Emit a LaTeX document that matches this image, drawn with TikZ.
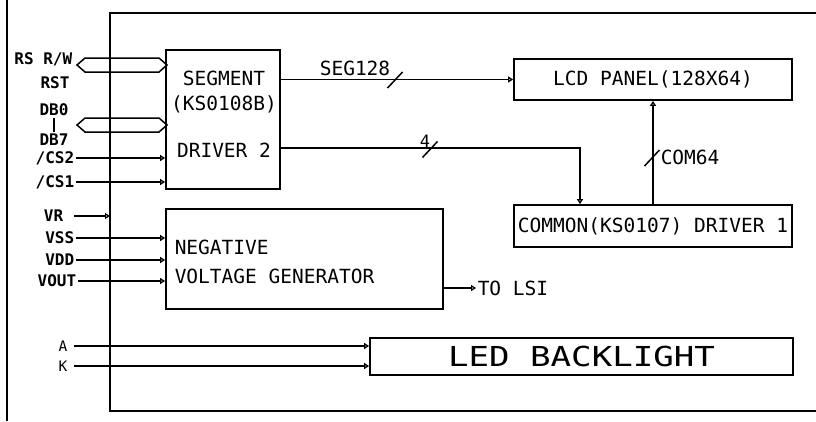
\documentclass[tikz,border=0pt]{standalone}
\usepackage{fontspec}
\usepackage{graphicx}
\setmonofont{DejaVu Sans Mono}
\usetikzlibrary{arrows.meta, positioning}

\begin{document}
\begin{tikzpicture}[
    x=1pt, y=-1pt,
    line width=1.5pt,
    blk/.style={draw, line width=1.8pt, inner sep=0pt, font=\ttfamily\fontsize{19.5}{25}\selectfont},
    pin/.style={font=\ttfamily\bfseries\fontsize{16}{18}\selectfont, inner sep=1pt},
    sig/.style={font=\ttfamily\fontsize{19.5}{22}\selectfont, inner sep=1pt},
    arrow/.style={-{Triangle[open, length=5pt, width=6pt, line width=1.2pt]}},
    bus/.pic={\draw (0,0) -- (8,-7) -- (82,-7) -- (90,0) -- (82,7) -- (8,7) -- cycle;},
    slash/.pic={\draw (-7.5,8) -- (7.5,-8);}
]
\useasboundingbox (0,0) rectangle (816,421);

% module outline
\coordinate (fnw) at (110,13);
\draw (7,0) -- (7,421);
\draw[line width=1.8pt] (816,13) -- (fnw) -- (110,411) -- (816,411);

% blocks
\node[blk, minimum width=114, minimum height=139] (seg) at (223,119.5) {};
\node[sig, align=center, font=\ttfamily\fontsize{19.5}{25}\selectfont] (segtext) at (224,114)
    {SEGMENT\\(KS0108B)\\[22pt]DRIVER 2};
\node[blk, minimum width=278, minimum height=41] (lcd) at (653,79.5) {LCD PANEL(128X64)};
\node[blk, minimum width=278, minimum height=42] (com) at (653,226) {COMMON(KS0107) DRIVER 1};
\node[blk, minimum width=277, minimum height=100] (ngen) at (304.5,259) {};
\node[sig, align=left, anchor=west, font=\ttfamily\fontsize{19.5}{29}\selectfont] (ngentext) at (173,261.5)
    {NEGATIVE\\VOLTAGE GENERATOR};
\node[blk, minimum width=423, minimum height=37] (led) at (581.5,356.5)
    {\scalebox{1.24}[1]{\fontsize{27.5}{30}\selectfont LED BACKLIGHT}};

% pins
\node[pin, anchor=east] (rsrw) at (74,59) {RS R/W};
\node[pin] (rst) at (55,83) {RST};
\node[pin] (db0) at (54,110) {DB0};
\node[pin] (db7) at (54,140) {DB7};
\node[pin, anchor=east] (cs2) at (76,158) {/CS2};
\node[pin, anchor=east] (cs1) at (76,182) {/CS1};
\node[pin, anchor=east] (vr) at (65,216) {VR};
\node[pin, anchor=east] (vss) at (76,238) {VSS};
\node[pin, anchor=east] (vdd) at (76,260) {VDD};
\node[pin, anchor=east] (vout) at (78,281) {VOUT};
\node[sig, anchor=east, font=\ttfamily\fontsize{14.5}{16}\selectfont] (pa) at (69,346) {A};
\node[sig, anchor=east, font=\ttfamily\fontsize{14.5}{16}\selectfont] (pk) at (69,366) {K};

% buses
\pic at (77,65) {bus};
\pic at (77,125) {bus};
\draw (db0.south) -- (db7.north);

% inputs
\draw[arrow] (cs2.east) -- (cs2.east -| seg.west);
\draw[arrow] (cs1.east) -- (cs1.east -| seg.west);
\draw[arrow] ([xshift=9pt]vr.east) -- (vr.east -| fnw);
\draw[arrow] (vss.east) -- (vss.east -| ngen.west);
\draw[arrow] (vdd.east) -- (vdd.east -| ngen.west);
\draw[arrow] (vout.east) -- (vout.east -| ngen.west);
\draw[arrow] ([xshift=5pt]pa.east) -- (pa.east -| led.west);
\draw[arrow] ([xshift=5pt]pk.east) -- (pk.east -| led.west);

% internal connections
\draw[arrow] (seg.east |- lcd.west) -- (lcd.west);
\pic at (395,80) {slash};
\node[sig] (seglbl) at (355,68) {SEG128};

\draw[arrow] ([yshift=-28.5pt]seg.east) -| ([xshift=-73pt]com.north);
\pic at (430,149.5) {slash};
\node[sig, font=\ttfamily\fontsize{17}{19}\selectfont] (nlbl) at (425,141) {4};

\draw[arrow] (com.north) -- (lcd.south);
\pic at (652,158) {slash};
\node[sig, anchor=west] (comlbl) at (659,157) {COM64};

\coordinate (lsi) at (476,288);
\draw[arrow] (ngen.east |- lsi) -- (lsi);
\node[sig, anchor=west] (lsilbl) at (lsi) {TO LSI};

\end{tikzpicture}
\end{document}
